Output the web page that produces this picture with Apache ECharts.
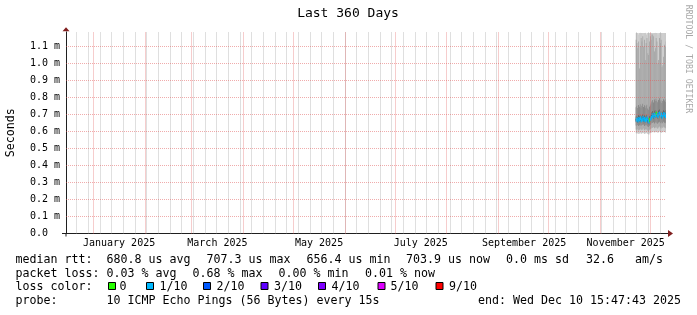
<!DOCTYPE html>
<html><head><meta charset="utf-8">
<script src="https://cdn.jsdelivr.net/npm/echarts@6/dist/echarts.min.js"></script>
<style>html,body{margin:0;padding:0;background:#fff}#c{width:697px;height:315px}</style>
</head><body><div id="c"></div>
<script>
// ---- time frame ----
const DAY = 86400000;
const END = Date.UTC(2025, 11, 10, 15, 47, 43);
const SPAN_DAYS = 360;
const START = END - SPAN_DAYS * DAY;
const DATA_START = Date.UTC(2025, 10, 22, 12, 0, 0);
const STEP = 12 * 3600 * 1000;

// ---- data (ms), one value per 12h step ----
const medianRtt = [0.668,0.672,0.664,0.675,0.670,0.678,0.666,0.672,0.680,0.669,0.674,0.665,0.671,0.677,0.662,0.656,0.668,0.672,0.680,0.692,0.698,0.688,0.700,0.694,0.705,0.697,0.690,0.702,0.707,0.693,0.699,0.686,0.695,0.703,0.698,0.691,0.704];
const lossPct = [0.02,0.01,0.03,0.02,0.05,0.01,0.02,0.04,0.01,0.02,0.03,0.01,0.02,0.68,0.02,0.01,0.00,0.03,0.02,0.01,0.02,0.04,0.01,0.02,0.00,0.03,0.01,0.02,0.01,0.02,0.03,0.01,0.02,0.01,0.02,0.03,0.01];
const ping1 = [0.590,0.588,0.592,0.585,0.590,0.594,0.587,0.591,0.589,0.593,0.586,0.590,0.592,0.588,0.585,0.583,0.589,0.591,0.594,0.598,0.596,0.600,0.594,0.597,0.601,0.595,0.592,0.598,0.602,0.596,0.593,0.599,0.595,0.601,0.597,0.594,0.600];
const ping2 = [0.612,0.608,0.615,0.606,0.611,0.616,0.609,0.613,0.610,0.617,0.607,0.612,0.614,0.609,0.605,0.603,0.610,0.613,0.618,0.624,0.621,0.627,0.619,0.623,0.628,0.620,0.616,0.624,0.629,0.622,0.618,0.626,0.620,0.628,0.623,0.619,0.626];
const ping3 = [0.636,0.634,0.638,0.632,0.637,0.640,0.633,0.637,0.639,0.641,0.633,0.636,0.639,0.635,0.630,0.627,0.634,0.638,0.643,0.652,0.650,0.655,0.647,0.652,0.657,0.649,0.645,0.653,0.658,0.650,0.647,0.655,0.649,0.657,0.652,0.648,0.655];
const ping4 = [0.655,0.658,0.651,0.661,0.657,0.664,0.653,0.659,0.666,0.656,0.660,0.652,0.658,0.663,0.649,0.643,0.655,0.659,0.666,0.677,0.684,0.675,0.686,0.680,0.690,0.683,0.676,0.688,0.692,0.679,0.685,0.672,0.681,0.689,0.684,0.677,0.690];
const ping5 = [0.663,0.667,0.659,0.670,0.665,0.673,0.661,0.667,0.675,0.664,0.669,0.660,0.666,0.672,0.657,0.651,0.663,0.667,0.675,0.687,0.693,0.683,0.695,0.689,0.700,0.692,0.685,0.697,0.702,0.688,0.694,0.681,0.690,0.698,0.693,0.686,0.699];
const ping6 = [0.673,0.677,0.669,0.680,0.675,0.683,0.671,0.677,0.685,0.674,0.679,0.670,0.676,0.682,0.667,0.661,0.673,0.677,0.685,0.697,0.703,0.693,0.705,0.699,0.710,0.702,0.695,0.707,0.712,0.698,0.704,0.691,0.700,0.708,0.703,0.696,0.709];
const ping7 = [0.688,0.693,0.685,0.696,0.690,0.699,0.686,0.693,0.701,0.689,0.695,0.685,0.692,0.698,0.682,0.677,0.689,0.693,0.701,0.713,0.720,0.709,0.722,0.715,0.727,0.718,0.711,0.724,0.729,0.714,0.721,0.707,0.716,0.725,0.719,0.712,0.726];
const ping8 = [0.742,0.751,0.738,0.756,0.745,0.760,0.740,0.752,0.763,0.744,0.755,0.737,0.748,0.758,0.735,0.728,0.746,0.753,0.764,0.776,0.785,0.770,0.788,0.779,0.792,0.781,0.772,0.786,0.795,0.777,0.784,0.768,0.780,0.790,0.783,0.774,0.789];
const ping9 = [1.14,1.12,1.09,1.13,0.97,1.10,1.15,1.13,1.16,1.10,1.14,1.02,1.12,1.15,1.06,1.05,1.13,1.16,1.14,1.17,1.17,1.16,1.07,1.09,1.15,1.13,1.00,1.02,1.15,1.12,1.14,0.98,0.99,1.04,1.11,1.10,1.13];
const ping10 = [1.18,1.18,1.18,1.17,1.18,1.18,1.18,1.18,1.18,1.18,1.18,1.18,1.17,1.18,1.18,1.18,1.18,1.18,1.18,1.18,1.18,1.18,1.18,1.18,1.18,1.18,1.17,1.18,1.18,1.18,1.18,1.18,1.18,1.18,1.18,1.18,1.18];

// ---- axis / ticks ----
const Y_MAX = 1.186;
const yTicks = [0.1,0.2,0.3,0.4,0.5,0.6,0.7,0.8,0.9,1.0,1.1];
const monthLines = ['2025-01-01','2025-02-01','2025-03-01','2025-04-01','2025-05-01','2025-06-01','2025-07-01','2025-08-01','2025-09-01','2025-10-01','2025-11-01','2025-12-01'];
const firstWeekLine = '2024-12-22';
const xLabelMonths = ['2025-01-01','2025-03-01','2025-05-01','2025-07-01','2025-09-01','2025-11-01'];
const xLabelNames = ['January 2025','March 2025','May 2025','July 2025','September 2025','November 2025'];

// ---- loss colours ----
const lossNames = ['0','1/10','2/10','3/10','4/10','5/10','9/10'];
const lossLimits = [0,1,2,3,4,5,9];   // lost pings out of 10
const lossColors = ['#26ff00','#00b8ff','#0059ff','#5e00ff','#7e00ff','#dd00ff','#ff0000'];
const SMOKE_COLORS = ['#cacaca','#a4a4a4','#7e7e7e','#585858','#323232'];

const MONO = '"DejaVu Sans Mono", monospace';
const GRID_C = 'rgba(150,150,150,0.6)';
const MGRID_V = 'rgba(225,90,90,0.6)';
const MGRID_H = 'rgba(225,90,90,0.5)';
const AXIS_C = '#1f1f1f';
const ARROW_C = '#801f1f';

function ms(s){ const p = s.split('-').map(Number); return Date.UTC(p[0], p[1]-1, p[2]); }
function lossColor(pct){
  const lost = pct / 10;
  for (let i = 0; i < lossLimits.length; i++) if (lost <= lossLimits[i]) return lossColors[i];
  return lossColors[lossColors.length-1];
}

const pings = [ping1,ping2,ping3,ping4,ping5,ping6,ping7,ping8,ping9,ping10];
const smokeData = medianRtt.map((_, i) => [DATA_START + i*STEP].concat(pings.map(p => p[i])));
const medData = medianRtt.map((m, i) => [DATA_START + i*STEP, m, lossPct[i]]);

const weekLines = [];
for (let t = ms(firstWeekLine); t < END; t += 7*DAY) weekLines.push(t);
const labelPos = xLabelMonths.map(s => ms(s) + 15.5*DAY);
const labelMap = {}; labelPos.forEach((p, i) => labelMap[p] = xLabelNames[i]);

const markData = []
  .concat(weekLines.map(t => ({xAxis: t, lineStyle: {color: GRID_C, type: [1,1], width: 1}})))
  .concat(monthLines.map(s => ({xAxis: ms(s), lineStyle: {color: MGRID_V, type: [1,1], width: 1}})))
  .concat(yTicks.map(v => ({yAxis: v, lineStyle: {color: MGRID_H, type: [1,1], width: 1}})));

function renderSmoke(params, api){
  const t = api.value(0);
  const cs = params.coordSys;
  const right = cs.x + cs.width;
  const xa = api.coord([t, 0])[0];
  if (xa >= right) return null;
  const xb = Math.min(api.coord([t + STEP, 0])[0] + 0.4, right);
  const children = [];
  for (let b = 0; b < 5; b++){
    const lo = api.value(1 + b), hi = api.value(10 - b);
    const yl = api.coord([t, lo])[1], yh = api.coord([t, hi])[1];
    children.push({type: 'rect', shape: {x: xa, y: yh, width: xb - xa, height: yl - yh}, style: {fill: SMOKE_COLORS[b]}});
  }
  return {type: 'group', children};
}
const HALF = 0.011;
function renderMedian(params, api){
  const t = api.value(0), m = api.value(1), l = api.value(2);
  const cs = params.coordSys;
  const right = cs.x + cs.width;
  const xa = api.coord([t, 0])[0];
  if (xa >= right) return null;
  const xb = Math.min(api.coord([t + STEP, 0])[0] + 0.4, right);
  const yl = api.coord([t, m - HALF])[1], yh = api.coord([t, m + HALF])[1];
  return {type: 'rect', shape: {x: xa, y: yh, width: xb - xa, height: yl - yh}, style: {fill: lossColor(l)}};
}

// ---- legend texts ----
const TXT = 11.63;
function txt(x, y, s, extra){
  return Object.assign({type: 'text', x, y, silent: true, style: {text: s, fontFamily: MONO, fontSize: TXT, fill: '#000', align: 'left', verticalAlign: 'middle'}}, extra || {});
}
const L1 = 259.5, L2 = 273.5, L3 = 287, L4 = 300.5;
const graphics = [
  {type: 'text', x: 348, y: 14, silent: true, style: {text: 'Last 360 Days', fontFamily: MONO, fontSize: 13, fill: '#000', align: 'center', verticalAlign: 'middle'}},
  {type: 'text', x: 688, y: 59, rotation: -Math.PI/2, silent: true, style: {text: 'RRDTOOL / TOBI OETIKER', fontFamily: MONO, fontSize: 8.2, fill: '#a8a8a8', align: 'center', verticalAlign: 'middle'}},
  txt(15.5, L1, 'median rtt:'), txt(106.5, L1, '680.8 us avg'), txt(206.5, L1, '707.3 us max'), txt(306.5, L1, '656.4 us min'),
  txt(406, L1, '703.9 us now'), txt(506, L1, '0.0 ms sd'), txt(586, L1, '32.6   am/s'),
  txt(15.5, L2, 'packet loss:'), txt(106.5, L2, '0.03 % avg'), txt(192.5, L2, '0.68 % max'), txt(278.5, L2, '0.00 % min'), txt(365, L2, '0.01 % now'),
  txt(15.5, L3, 'loss color:'),
  txt(15.5, L4, 'probe:'), txt(106.5, L4, '10 ICMP Echo Pings (56 Bytes) every 15s'), txt(478, L4, 'end: Wed Dec 10 15:47:43 2025')
];
const boxX = [108, 146, 203, 260.5, 318, 377.5, 435.5];
const boxTextX = [119.5, 159.5, 216.5, 274, 331.5, 390.5, 449];
lossNames.forEach((n, i) => {
  graphics.push({type: 'rect', silent: true, shape: {x: boxX[i] + 0.5, y: 282.5, width: 7, height: 7}, style: {fill: lossColors[i], stroke: '#000', lineWidth: 1}});
  graphics.push(txt(boxTextX[i], L3, n));
});

const chart = echarts.init(document.getElementById('c'), null, {renderer: 'canvas'});
chart.setOption({
  animation: false,
  backgroundColor: '#fff',
  grid: {left: 66, right: 31, top: 31.88, bottom: 81.5, containLabel: false, outerBoundsMode: 'none'},
  xAxis: [{
    type: 'value', min: START, max: END,
    axisLine: {show: true, lineStyle: {color: AXIS_C, width: 1}, symbol: ['rect','rect'], symbolSize: [1, 4], symbolOffset: [-2, 2]},
    axisTick: {show: false}, splitLine: {show: false},
    axisLabel: {show: true, customValues: labelPos, formatter: v => labelMap[v] || '', fontFamily: MONO, fontSize: 10, color: '#000', margin: 5}
  }, {
    type: 'value', min: START, max: END, position: 'bottom',
    axisLine: {show: true, lineStyle: {color: ARROW_C, width: 0}, symbol: ['none','triangle'], symbolSize: [7, 5], symbolOffset: [0, 4.5]},
    axisTick: {show: false}, splitLine: {show: false}, axisLabel: {show: false}
  }],
  yAxis: [{
    type: 'value', min: 0, max: Y_MAX, interval: 0.1,
    name: 'Seconds', nameLocation: 'middle', nameGap: 49, nameRotate: 90,
    nameTextStyle: {fontFamily: MONO, fontSize: TXT, color: '#000'},
    axisLine: {show: true, lineStyle: {color: AXIS_C, width: 1}, symbol: ['rect','none'], symbolSize: [1, 3], symbolOffset: [-1.5, 0]},
    axisTick: {show: false}, splitLine: {show: false},
    axisLabel: {show: true, showMaxLabel: false, align: 'left', margin: 36, fontFamily: MONO, fontSize: 10, color: '#000',
      formatter: v => v === 0 ? '0.0' : v.toFixed(1) + ' m'}
  }, {
    type: 'value', min: 0, max: Y_MAX, position: 'left',
    axisLine: {show: true, lineStyle: {color: ARROW_C, width: 0}, symbol: ['none','triangle'], symbolSize: [7, 4], symbolOffset: [0, 2.7]},
    axisTick: {show: false}, splitLine: {show: false}, axisLabel: {show: false}
  }],
  series: [{
    type: 'custom', name: 'smoke', xAxisIndex: 0, yAxisIndex: 0,
    renderItem: renderSmoke, data: smokeData, silent: true,
    markLine: {silent: true, symbol: ['none','none'], label: {show: false}, animation: false, data: markData}
  }, {
    type: 'custom', name: 'median', xAxisIndex: 0, yAxisIndex: 0,
    renderItem: renderMedian, data: medData, silent: true
  }],
  graphic: graphics
});
</script></body></html>
